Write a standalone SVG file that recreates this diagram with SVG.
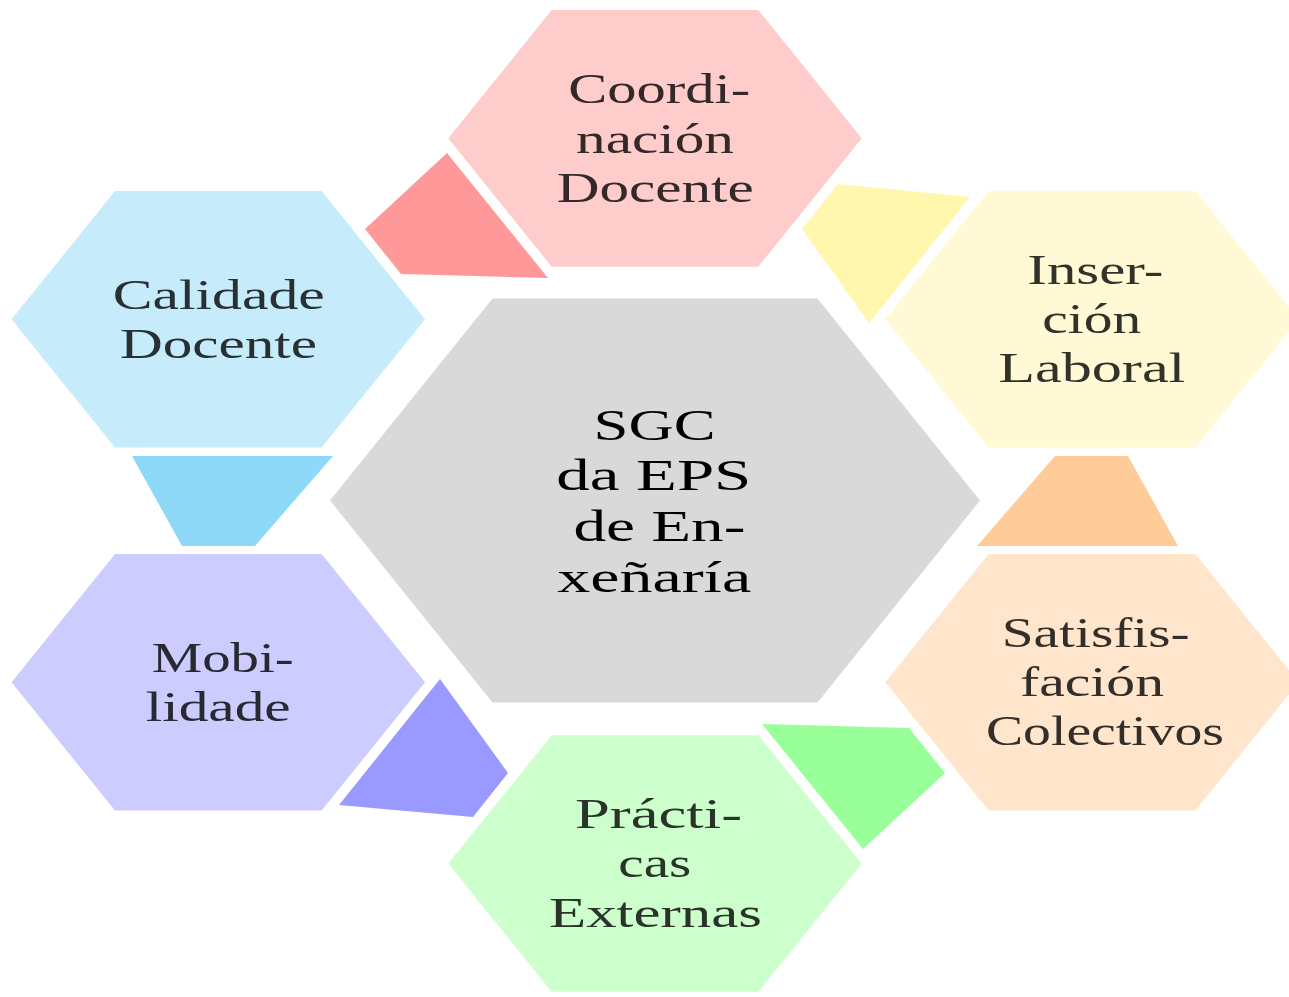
<svg xmlns="http://www.w3.org/2000/svg" width="1289" height="997" viewBox="0 0 1289 997">
<style>
text{font-family:"Liberation Serif","Times New Roman",serif;font-size:42px}
.c{font-size:44px;fill:#000}
</style>
<rect width="1289" height="997" fill="#fff"/>
<g id="connectors">
<polygon points="447,153 365,229 401,274 548,278" fill="#FF9999"/>
<polygon points="838,184 970,197 869,323 802,229" fill="#FFF7AE"/>
<polygon points="1055,456 1128,456 1178,546 977,546" fill="#FFCC99"/>
<polygon points="762,724 909,728 945,773 863,849" fill="#99FF99"/>
<polygon points="440,679 508,773 473,817 339,805" fill="#9999FF"/>
<polygon points="132,456 333,456 255,546 182,546" fill="#8ED8F8"/>
</g>
<g id="center">
<polygon points="330,500.5 492.5,298.5 817.5,298.5 980,500.5 817.5,702.5 492.5,702.5" fill="#D9D9D9"/>
<text class="c" x="593.5" y="440" textLength="122" lengthAdjust="spacingAndGlyphs">SGC</text>
<text class="c" x="556.3" y="490" textLength="195" lengthAdjust="spacingAndGlyphs">da EPS</text>
<text class="c" x="573.4" y="541" textLength="172" lengthAdjust="spacingAndGlyphs">de En-</text>
<text class="c" x="557.2" y="592" textLength="194" lengthAdjust="spacingAndGlyphs">xeñaría</text>
</g>
<g id="coordinacion">
<polygon points="448.3,138.3 551.7,10 758.3,10 861.7,138.3 758.3,266.7 551.7,266.7" fill="#FFCCCC"/>
<g fill="#332929">
<text x="568.3" y="103.3" textLength="182" lengthAdjust="spacingAndGlyphs">Coordi-</text>
<text x="576" y="152.7" textLength="158" lengthAdjust="spacingAndGlyphs">nación</text>
<text x="556.7" y="201.7" textLength="197" lengthAdjust="spacingAndGlyphs">Docente</text>
</g>
</g>
<g id="insercion">
<polygon points="885.3,319.3 988.7,191 1195.3,191 1298.7,319.3 1195.3,447.6 988.7,447.6" fill="#FFFAD5"/>
<g fill="#33322A">
<text x="1027.3" y="284.3" textLength="136" lengthAdjust="spacingAndGlyphs">Inser-</text>
<text x="1042.3" y="333.3" textLength="99" lengthAdjust="spacingAndGlyphs">ción</text>
<text x="998.3" y="382.3" textLength="187" lengthAdjust="spacingAndGlyphs">Laboral</text>
</g>
</g>
<g id="calidade">
<polygon points="11.6,319.3 115,191 321.6,191 425,319.3 321.6,447.6 115,447.6" fill="#C6EBFA"/>
<g fill="#283033">
<text x="112.7" y="309" textLength="212" lengthAdjust="spacingAndGlyphs">Calidade</text>
<text x="120" y="358.3" textLength="197" lengthAdjust="spacingAndGlyphs">Docente</text>
</g>
</g>
<g id="mobilidade">
<polygon points="11.6,682.3 115,554 321.6,554 425,682.3 321.6,810.6 115,810.6" fill="#CCCCFF"/>
<g fill="#292933">
<text x="151.7" y="671.7" textLength="142" lengthAdjust="spacingAndGlyphs">Mobi-</text>
<text x="145.7" y="721" textLength="145" lengthAdjust="spacingAndGlyphs">lidade</text>
</g>
</g>
<g id="practicas">
<polygon points="448.3,863.5 551.7,735.2 758.3,735.2 861.7,863.5 758.3,991.8 551.7,991.8" fill="#CCFFCC"/>
<g fill="#293329">
<text x="575" y="827.7" textLength="167" lengthAdjust="spacingAndGlyphs">Prácti-</text>
<text x="618.3" y="876.7" textLength="73" lengthAdjust="spacingAndGlyphs">cas</text>
<text x="549" y="927.3" textLength="213" lengthAdjust="spacingAndGlyphs">Externas</text>
</g>
</g>
<g id="satisfaccion">
<polygon points="885.3,682.3 988.7,554 1195.3,554 1298.7,682.3 1195.3,810.6 988.7,810.6" fill="#FFE5CC"/>
<g fill="#332E29">
<text x="1001.7" y="646.7" textLength="188" lengthAdjust="spacingAndGlyphs">Satisfis-</text>
<text x="1020" y="696" textLength="144" lengthAdjust="spacingAndGlyphs">fación</text>
<text x="986" y="745" textLength="238" lengthAdjust="spacingAndGlyphs">Colectivos</text>
</g>
</g>
</svg>
